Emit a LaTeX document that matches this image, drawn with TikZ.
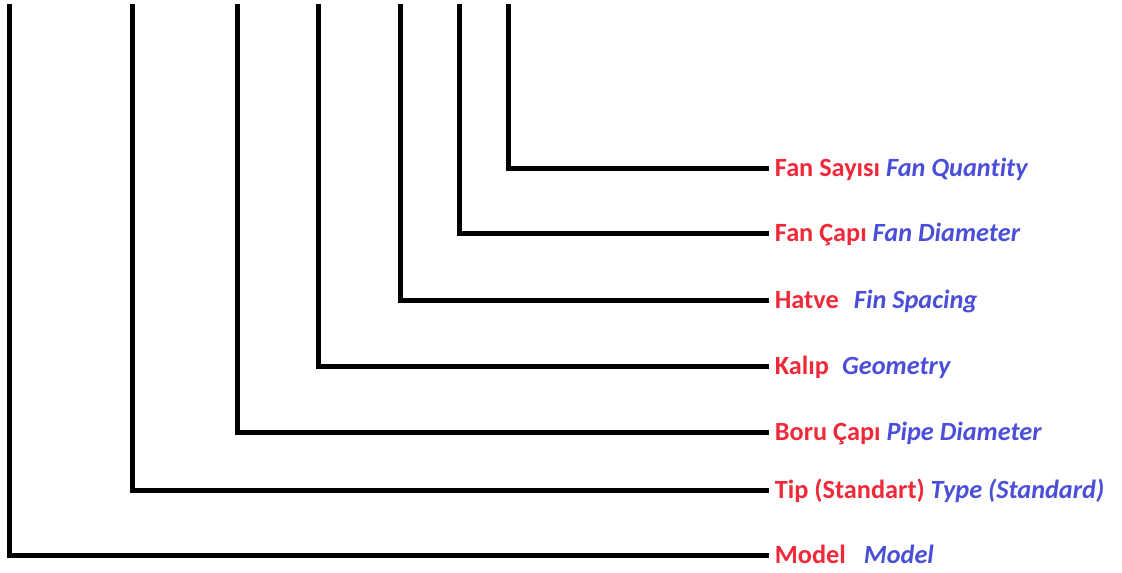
\documentclass[tikz,border=0pt]{standalone}
\usepackage{fontspec}
\setmainfont{Carlito}[Ligatures=CommonOff]
\usepackage{xcolor}
\definecolor{codered}{HTML}{EE2A3A}
\definecolor{codeblue}{HTML}{4B4FD8}

\begin{document}
\begin{tikzpicture}[x=0.025cm,y=-0.025cm,
    wire/.style={draw=black,line width=0.125cm},
    codelbl/.style={anchor=west,inner xsep=0.14cm,inner ysep=0pt,text height=12pt,text depth=0pt,font=\fontsize{18.7pt}{22pt}\selectfont\bfseries}]
            \useasboundingbox (0,0) rectangle (1122,572);

            \node[codelbl] (lbl1) at (769,168) {\textcolor{codered}{Fan Sayısı} \textcolor{codeblue}{\itshape Fan Quantity}};
            \node[codelbl] (lbl2) at (769,233) {\textcolor{codered}{Fan Çapı} \textcolor{codeblue}{\itshape Fan Diameter}};
            \node[codelbl] (lbl3) at (769,300) {\textcolor{codered}{Hatve}\hspace{0.38cm}\textcolor{codeblue}{\itshape Fin Spacing}};
            \node[codelbl] (lbl4) at (769,366) {\textcolor{codered}{Kalıp}\hspace{0.33cm}\textcolor{codeblue}{\itshape Geometry}};
            \node[codelbl] (lbl5) at (769,432) {\textcolor{codered}{Boru Çapı} \textcolor{codeblue}{\itshape Pipe Diameter}};
            \node[codelbl] (lbl6) at (769,490) {\textcolor{codered}{Tip (Standart)} \textcolor{codeblue}{\itshape Type (Standard)}};
            \node[codelbl] (lbl7) at (769,555) {\textcolor{codered}{Model}\hspace{0.45cm}\textcolor{codeblue}{\itshape Model}};

            \coordinate (top1) at (508,4);
            \coordinate (top2) at (459,4);
            \coordinate (top3) at (400,4);
            \coordinate (top4) at (318,4);
            \coordinate (top5) at (237,4);
            \coordinate (top6) at (132.5,4);
            \coordinate (top7) at (9.5,4);

            \draw[wire] (top1) |- (lbl1.west);
            \draw[wire] (top2) |- (lbl2.west);
            \draw[wire] (top3) |- (lbl3.west);
            \draw[wire] (top4) |- (lbl4.west);
            \draw[wire] (top5) |- (lbl5.west);
            \draw[wire] (top6) |- (lbl6.west);
            \draw[wire] (top7) |- (lbl7.west);
        \end{tikzpicture}
\end{document}
